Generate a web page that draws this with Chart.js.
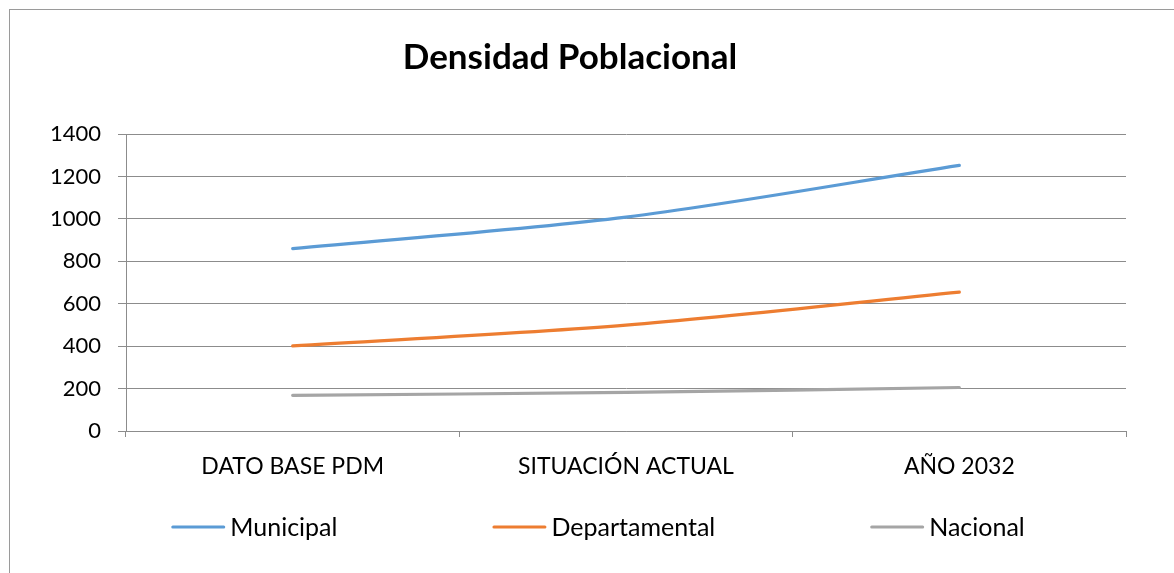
<!DOCTYPE html>
<html>
<head>
<meta charset="utf-8">
<script src="https://cdn.jsdelivr.net/npm/chart.js@4/dist/chart.umd.min.js"></script>
<style>
  html, body { margin: 0; padding: 0; background: #fff; overflow: hidden; }
  body { width: 1174px; height: 573px; position: relative; }
  #frame { position: absolute; left: 9px; top: 9px; width: 1300px; height: 700px; border-left: 1px solid #9a9a9a; border-top: 1px solid #9a9a9a; }
  #wrap { position: absolute; left: 10px; top: 10px; width: 1120px; height: 563px; }
</style>
</head>
<body>
<div id="frame"></div>
<div id="wrap"><canvas id="c"></canvas></div>
<script>
const categories = ['DATO BASE PDM', 'SITUACIÓN ACTUAL', 'AÑO 2032'];
const municipal = [860, 1008, 1252];
const departamental = [401, 499, 655];
const nacional = [168, 182, 205];
const seriesNames = ['Municipal', 'Departamental', 'Nacional'];
const yTicks = [0, 200, 400, 600, 800, 1000, 1200, 1400];

const FONT = 'Lato, "Liberation Sans", sans-serif';

const customLegend = {
  id: 'customLegend',
  afterDraw(chart) {
    const ctx = chart.ctx;
    const lineLen = 54, gap = 5, itemGap = 155;
    ctx.save();
    ctx.font = '25px ' + FONT;
    const items = chart.data.datasets.map(ds => ({
      text: ds.label, color: ds.borderColor, w: ctx.measureText(ds.label).width
    }));
    const total = items.reduce((s, it) => s + lineLen + gap + it.w, 0) + itemGap * (items.length - 1);
    let x = 588 - total / 2;
    const y = chart.chartArea.bottom + 96;
    items.forEach(it => {
      ctx.strokeStyle = it.color;
      ctx.lineWidth = 3;
      ctx.lineCap = 'round';
      ctx.beginPath();
      ctx.moveTo(x + 1.5, y);
      ctx.lineTo(x + lineLen - 1.5, y);
      ctx.stroke();
      ctx.fillStyle = '#000';
      ctx.textBaseline = 'middle';
      ctx.textAlign = 'left';
      ctx.fillText(it.text, x + lineLen + gap, y + 1);
      x += lineLen + gap + it.w + itemGap;
    });
    ctx.restore();
  }
};

const mk = (label, data, color) => ({
  label, data, borderColor: color, backgroundColor: color,
  borderWidth: 3.2, pointRadius: 0, pointHoverRadius: 0, tension: 0.3,
  borderCapStyle: 'round', fill: false
});

new Chart(document.getElementById('c'), {
  type: 'line',
  data: {
    labels: categories,
    datasets: [
      mk(seriesNames[0], municipal, '#5B9BD5'),
      mk(seriesNames[1], departamental, '#ED7D31'),
      mk(seriesNames[2], nacional, '#A5A5A5')
    ]
  },
  plugins: [customLegend],
  options: {
    responsive: true,
    maintainAspectRatio: false,
    animation: false,
    layout: { padding: { left: 4, right: 4, top: 0, bottom: 97 } },
    plugins: {
      legend: { display: false },
      tooltip: { enabled: false },
      title: {
        display: true,
        text: 'Densidad Poblacional',
        color: '#000',
        font: { family: FONT, size: 35, weight: 'bold' },
        padding: { top: 27, bottom: 55 }
      }
    },
    scales: {
      x: {
        offset: true,
        afterFit(axis) { axis.height = 45; },
        grid: { offset: true, drawOnChartArea: false, drawTicks: true, tickLength: 6, color: '#8c8c8c' },
        border: { color: '#8c8c8c', width: 1 },
        ticks: { color: '#000', font: { family: FONT, size: 23 }, padding: 16, maxRotation: 0 }
      },
      y: {
        min: 0, max: 1400,
        afterBuildTicks(axis) { axis.ticks = yTicks.map(v => ({ value: v })); },
        afterFit(axis) { axis.width = 112; },
        grid: { color: '#8c8c8c', tickLength: 8, drawTicks: true },
        border: { color: '#8c8c8c', width: 1 },
        ticks: { color: '#000', font: { family: FONT, size: 22 }, padding: 17, callback: v => String(v) }
      }
    }
  }
});
</script>
</body>
</html>
